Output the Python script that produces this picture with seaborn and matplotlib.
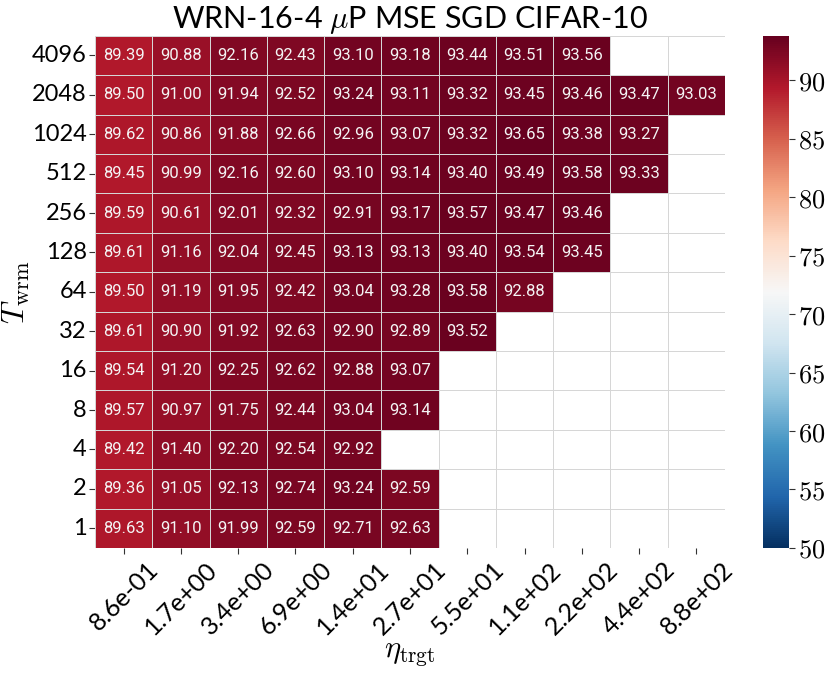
import numpy as np
import pandas as pd
import matplotlib
matplotlib.use("Agg")
import matplotlib.pyplot as plt
import seaborn as sns

rows = ["4096", "2048", "1024", "512", "256", "128", "64", "32", "16", "8", "4", "2", "1"]
cols = ["8.6e-01", "1.7e+00", "3.4e+00", "6.9e+00", "1.4e+01", "2.7e+01",
        "5.5e+01", "1.1e+02", "2.2e+02", "4.4e+02", "8.8e+02"]
N = np.nan
r4096 = [89.39, 90.88, 92.16, 92.43, 93.10, 93.18, 93.44, 93.51, 93.56, N, N]
r2048 = [89.50, 91.00, 91.94, 92.52, 93.24, 93.11, 93.32, 93.45, 93.46, 93.47, 93.03]
r1024 = [89.62, 90.86, 91.88, 92.66, 92.96, 93.07, 93.32, 93.65, 93.38, 93.27, N]
r512 = [89.45, 90.99, 92.16, 92.60, 93.10, 93.14, 93.40, 93.49, 93.58, 93.33, N]
r256 = [89.59, 90.61, 92.01, 92.32, 92.91, 93.17, 93.57, 93.47, 93.46, N, N]
r128 = [89.61, 91.16, 92.04, 92.45, 93.13, 93.13, 93.40, 93.54, 93.45, N, N]
r64 = [89.50, 91.19, 91.95, 92.42, 93.04, 93.28, 93.58, 92.88, N, N, N]
r32 = [89.61, 90.90, 91.92, 92.63, 92.90, 92.89, 93.52, N, N, N, N]
r16 = [89.54, 91.20, 92.25, 92.62, 92.88, 93.07, N, N, N, N, N]
r8 = [89.57, 90.97, 91.75, 92.44, 93.04, 93.14, N, N, N, N, N]
r4 = [89.42, 91.40, 92.20, 92.54, 92.92, N, N, N, N, N, N]
r2 = [89.36, 91.05, 92.13, 92.74, 93.24, 92.59, N, N, N, N, N]
r1 = [89.63, 91.10, 91.99, 92.59, 92.71, 92.63, N, N, N, N, N]

df = pd.DataFrame([r4096, r2048, r1024, r512, r256, r128, r64, r32, r16, r8, r4, r2, r1],
                  index=rows, columns=cols)

sns.set_theme(style="white")
plt.rcParams['font.family'] = ['Lato', 'DejaVu Sans']
plt.rcParams['mathtext.fontset'] = 'cm'
plt.rcParams['text.color'] = 'black'
plt.rcParams['axes.labelcolor'] = 'black'
plt.rcParams['xtick.color'] = 'black'
plt.rcParams['ytick.color'] = 'black'

fig = plt.figure(figsize=(8.3, 6.74), dpi=100)
ax = fig.add_axes([0.1145, 0.187, 0.759, 0.76])
cax = fig.add_axes([0.919, 0.187, 0.032, 0.76])

sns.heatmap(df, ax=ax, cbar_ax=cax, cmap="RdBu_r", vmin=50, vmax=93.8,
            annot=True, fmt=".2f", linewidths=0.7, linecolor="#d6d6d6",
            annot_kws={"fontsize": 12, "color": "#f4f4f4", "family": "Roboto"})

ax.set_title("WRN-16-4 $\\mu$P MSE SGD CIFAR-10", fontsize=22, pad=4, color="black")
ax.set_xlabel("$\\eta_{\\rm trgt}$", fontsize=22)
ax.set_ylabel("$T_{\\rm wrm}$", fontsize=23)
ax.tick_params(axis='both', which='both', length=4, width=0.8, color="#333333",
               left=True, bottom=True, labelsize=17, pad=2)
ax.tick_params(axis='x', pad=3)
ax.set_xticklabels(cols, rotation=45, ha="center", fontsize=18)
ax.set_yticklabels(rows, rotation=0, fontsize=17)
ax.xaxis.set_label_coords(0.5, -0.18)
ax.yaxis.set_label_coords(-0.1, 0.5)
for s in ax.spines.values():
    s.set_visible(False)

cb = ax.collections[0].colorbar
cb.outline.set_visible(False)
ticks = [50, 55, 60, 65, 70, 75, 80, 85, 90]
cb.set_ticks(ticks)
cb.set_ticklabels([f"${t}$" for t in ticks])
cax.tick_params(labelsize=19, length=4, width=0.8, color="#333333", right=True, pad=2)

fig.savefig("out.png", dpi=100)
